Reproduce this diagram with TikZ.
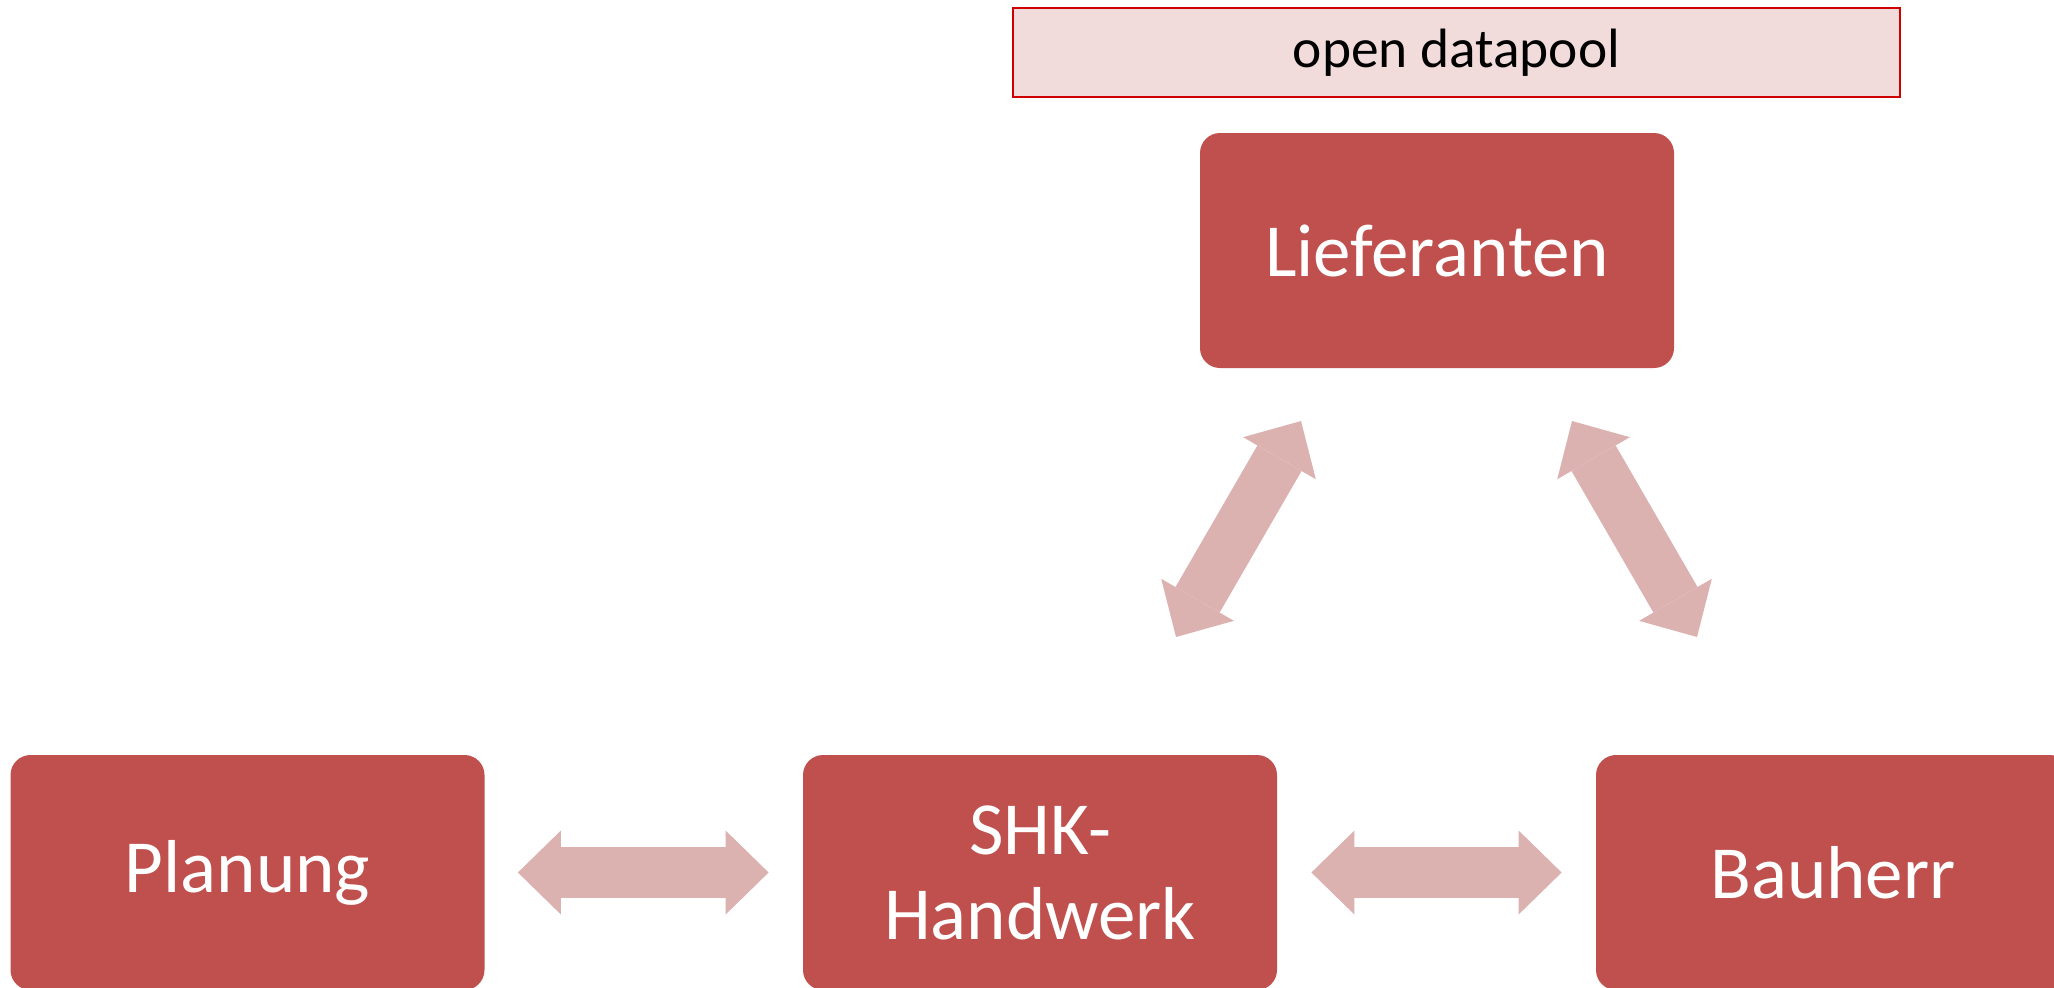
\documentclass[tikz,border=0pt]{standalone}
\usepackage{fontspec}
\setmainfont{Carlito}
\usetikzlibrary{arrows.meta,calc}
\definecolor{boxred}{HTML}{C0504D}
\definecolor{arrowpink}{HTML}{DCB2B1}
\definecolor{poolfill}{HTML}{F2DCDB}
\definecolor{poolline}{HTML}{D00000}
\tikzset{
  party/.style={fill=boxred, draw=none, rounded corners=10pt, text=white,
    minimum width=237pt, minimum height=117.5pt, inner sep=0pt,
    align=center, font=\fontsize{37.5pt}{42.5pt}\selectfont},
  poolbox/.style={fill=poolfill, draw=poolline, line width=1pt,
    minimum width=443.5pt, minimum height=44.5pt, inner sep=0pt,
    font=\fontsize{27.7pt}{32pt}\selectfont},
  conn/.style={draw=arrowpink, line width=25.5pt,
    {Triangle[length=21.5pt,width=42pt,line width=0pt]}-{Triangle[length=21.5pt,width=42pt,line width=0pt]}}
}
\begin{document}
\begin{tikzpicture}[x=0.5pt,y=-0.5pt]
\useasboundingbox (0,0) rectangle (2054,987);
\node[poolbox] (pool) at (1456.5,52.5) {open datapool};
\node[party] (lief) at (1437,250.5) {Lieferanten};
\node[party] (plan) at (247.5,872.5) {Planung};
\node[party] (shk) at (1040,872.5) {SHK-\\Handwerk};
\node[party] (bau) at (1833,872.5) {Bauherr};
\coordinate (d1a) at (1176,637);
\coordinate (d1b) at (1301,421);
\coordinate (d2a) at (1572,421);
\coordinate (d2b) at (1697,637);
\draw[conn, shorten <=16.5pt, shorten >=17pt] (plan) -- (shk);
\draw[conn, shorten <=17pt, shorten >=17pt] (shk) -- (bau);
\draw[conn] (d1a) -- (d1b);
\draw[conn] (d2a) -- (d2b);
\end{tikzpicture}
\end{document}
